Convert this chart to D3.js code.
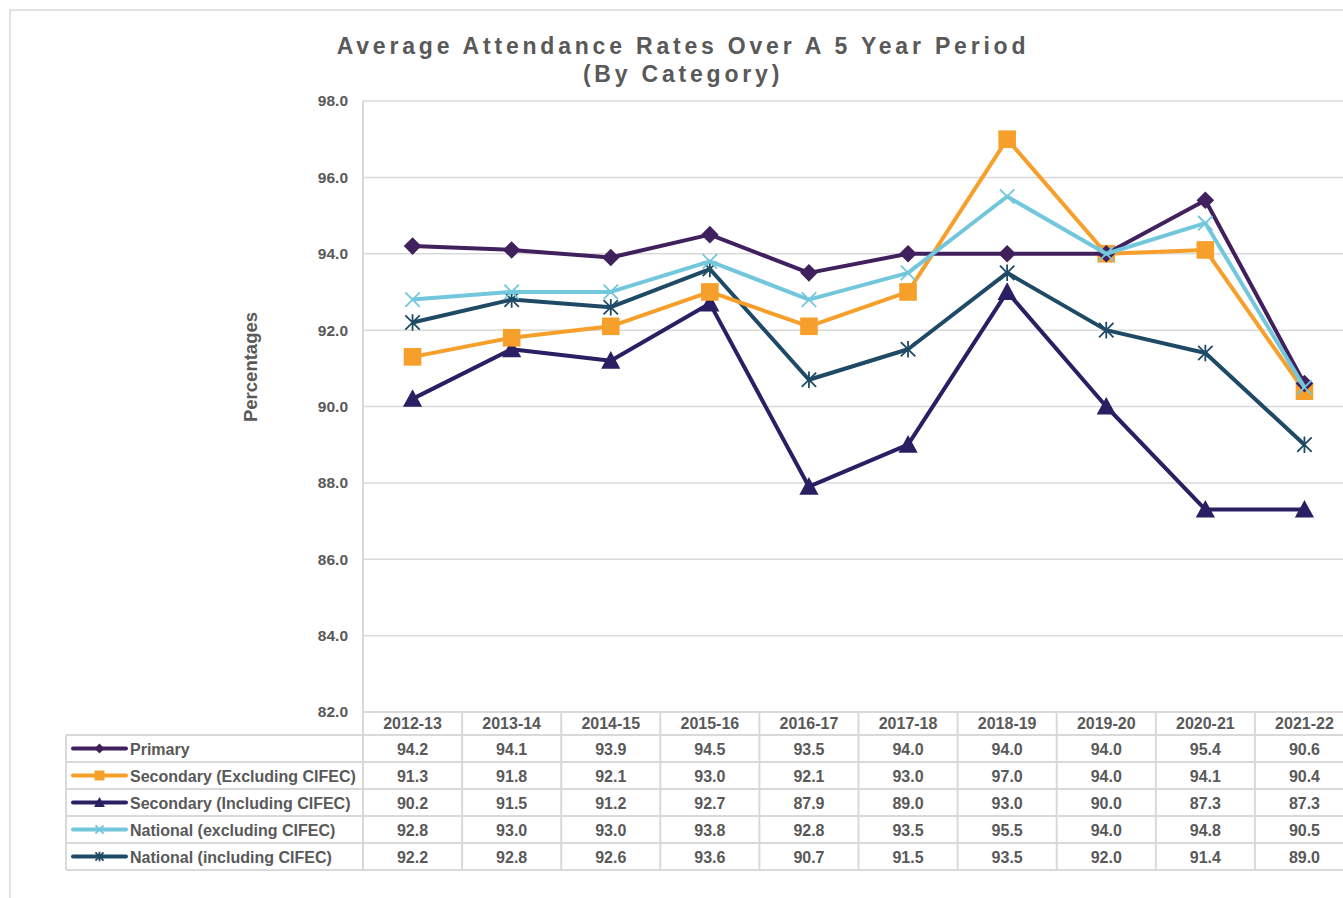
<!DOCTYPE html>
<html><head><meta charset="utf-8">
<script src="https://cdn.jsdelivr.net/npm/d3@7"></script>
<style>body{margin:0;background:#fff;overflow:hidden}svg{display:block;font-family:"Liberation Sans",Arial,sans-serif}</style>
</head><body>
<svg id="c" width="1343" height="898"></svg>
<script>
const categories = ["2012-13","2013-14","2014-15","2015-16","2016-17","2017-18","2018-19","2019-20","2020-21","2021-22"];
const primary = [94.2,94.1,93.9,94.5,93.5,94.0,94.0,94.0,95.4,90.6];
const secondaryExcl = [91.3,91.8,92.1,93.0,92.1,93.0,97.0,94.0,94.1,90.4];
const secondaryIncl = [90.2,91.5,91.2,92.7,87.9,89.0,93.0,90.0,87.3,87.3];
const nationalExcl = [92.8,93.0,93.0,93.8,92.8,93.5,95.5,94.0,94.8,90.5];
const nationalIncl = [92.2,92.8,92.6,93.6,90.7,91.5,93.5,92.0,91.4,89.0];
const yTicks = [82,84,86,88,90,92,94,96,98];

const series = [
  {name:"Primary", values:primary, color:"#41205e", marker:"diamond"},
  {name:"Secondary (Excluding CIFEC)", values:secondaryExcl, color:"#f6a02b", marker:"square"},
  {name:"Secondary (Including CIFEC)", values:secondaryIncl, color:"#2a1f63", marker:"triangle"},
  {name:"National (excluding CIFEC)", values:nationalExcl, color:"#72c7dc", marker:"x"},
  {name:"National (including CIFEC)", values:nationalIncl, color:"#1f4a66", marker:"star"}
];
const drawOrder = [4,2,1,0,3];

(function(){
const svg = d3.select("#c");
const grid = "#d9d9d9", txt = "#595959";
const pL = 363, pT = 101, pB = 712, pR = 1354;
const rowH = 27, tableTop = 735;

// outer border
svg.append("rect").attr("x",10).attr("y",10).attr("width",1400).attr("height",1000)
  .attr("fill","none").attr("stroke",grid).attr("stroke-width",1.5);

const x = d3.scaleBand().domain(categories).range([pL,pR]).paddingInner(0).paddingOuter(0);
const y = d3.scaleLinear().domain([82,98]).range([pB,pT]);

// title
const title = svg.append("text").attr("text-anchor","middle")
  .attr("fill",txt).attr("font-weight","bold").attr("font-size",23).style("letter-spacing","3.8px");
title.append("tspan").attr("x",683).attr("y",54).text("Average Attendance Rates Over A 5 Year Period");
title.append("tspan").attr("x",683).attr("y",82).text("(By Category)");

// gridlines
svg.append("g").selectAll("line").data(yTicks).join("line")
  .attr("x1",pL).attr("x2",1343).attr("y1",d=>y(d)).attr("y2",d=>y(d))
  .attr("stroke",grid).attr("stroke-width",1.5);

// y axis
const yAxis = d3.axisLeft(y).tickValues(yTicks).tickFormat(d3.format(".1f")).tickSize(0).tickPadding(15);
const ga = svg.append("g").attr("transform",`translate(${pL},0)`).call(yAxis);
ga.select(".domain").remove();
ga.selectAll("text").attr("fill",txt).attr("font-weight","bold").attr("font-size",15.5)
  .attr("font-family","Liberation Sans, Arial, sans-serif");
svg.append("line").attr("x1",pL).attr("x2",pL).attr("y1",pT).attr("y2",tableTop+rowH*5)
  .attr("stroke",grid).attr("stroke-width",2);

svg.append("text").attr("transform","translate(257,367) rotate(-90)").attr("text-anchor","middle")
  .attr("fill",txt).attr("font-weight","bold").attr("font-size",18.5).text("Percentages");

// markers
function drawMarker(g, type, color, cx, cy, s){
  if(type==="diamond"){
    g.append("path").attr("d",`M${cx},${cy-s*0.55}L${cx+s*0.55},${cy}L${cx},${cy+s*0.55}L${cx-s*0.55},${cy}Z`).attr("fill",color);
  } else if(type==="square"){
    g.append("rect").attr("x",cx-s*0.55).attr("y",cy-s*0.55).attr("width",s*1.1).attr("height",s*1.1).attr("fill",color);
  } else if(type==="triangle"){
    g.append("path").attr("d",`M${cx},${cy-s*0.6}L${cx+s*0.6},${cy+s*0.5}L${cx-s*0.6},${cy+s*0.5}Z`).attr("fill",color);
  } else if(type==="x"){
    const h=s*0.45;
    g.append("path").attr("d",`M${cx-h},${cy-h}L${cx+h},${cy+h}M${cx-h},${cy+h}L${cx+h},${cy-h}`)
      .attr("stroke",color).attr("stroke-width",1.8).attr("fill","none");
  } else if(type==="star"){
    const h=s*0.45;
    g.append("path").attr("d",`M${cx-h},${cy-h}L${cx+h},${cy+h}M${cx-h},${cy+h}L${cx+h},${cy-h}M${cx},${cy-h*1.15}L${cx},${cy+h*1.15}`)
      .attr("stroke",color).attr("stroke-width",1.8).attr("fill","none");
  }
}

const line = d3.line().x((d,i)=>x(categories[i])+x.bandwidth()/2).y(d=>y(d));
const plot = svg.append("g");
drawOrder.forEach(si=>{
  const s = series[si];
  const g = plot.append("g");
  g.append("path").datum(s.values).attr("d",line).attr("fill","none")
    .attr("stroke",s.color).attr("stroke-width",4).attr("stroke-linejoin","round");
  s.values.forEach((v,i)=>drawMarker(g,s.marker,s.color,x(categories[i])+x.bandwidth()/2,y(v),16));
});

// data table
const tg = svg.append("g");
const fmt = d3.format(".1f");
tg.append("line").attr("x1",pL).attr("x2",1343).attr("y1",pB).attr("y2",pB).attr("stroke",grid).attr("stroke-width",2);
categories.forEach(c=>{
  tg.append("text").attr("x",x(c)+x.bandwidth()/2).attr("y",pB+17).attr("text-anchor","middle")
    .attr("fill",txt).attr("font-weight","bold").attr("font-size",16).text(c);
  tg.append("line").attr("x1",x(c)+x.bandwidth()).attr("x2",x(c)+x.bandwidth()).attr("y1",pB).attr("y2",tableTop+rowH*5)
    .attr("stroke",grid).attr("stroke-width",2);
});
for(let r=0;r<=5;r++){
  tg.append("line").attr("x1",66).attr("x2",1343).attr("y1",tableTop+r*rowH).attr("y2",tableTop+r*rowH)
    .attr("stroke",grid).attr("stroke-width",2);
}
tg.append("line").attr("x1",66).attr("x2",66).attr("y1",tableTop).attr("y2",tableTop+rowH*5).attr("stroke",grid).attr("stroke-width",2);
series.forEach((s,r)=>{
  const cy = tableTop + r*rowH + rowH/2;
  tg.append("line").attr("x1",73).attr("x2",126).attr("y1",cy).attr("y2",cy)
    .attr("stroke",s.color).attr("stroke-width",4).attr("stroke-linecap","round");
  drawMarker(tg,s.marker,s.color,99.5,cy,9);
  tg.append("text").attr("x",130).attr("y",cy+6).attr("fill",txt).attr("font-weight","bold").attr("font-size",16).text(s.name);
  s.values.forEach((v,i)=>{
    tg.append("text").attr("x",x(categories[i])+x.bandwidth()/2).attr("y",cy+6).attr("text-anchor","middle")
      .attr("fill",txt).attr("font-weight","bold").attr("font-size",16).text(fmt(v));
  });
});
})();
</script>
</body></html>
